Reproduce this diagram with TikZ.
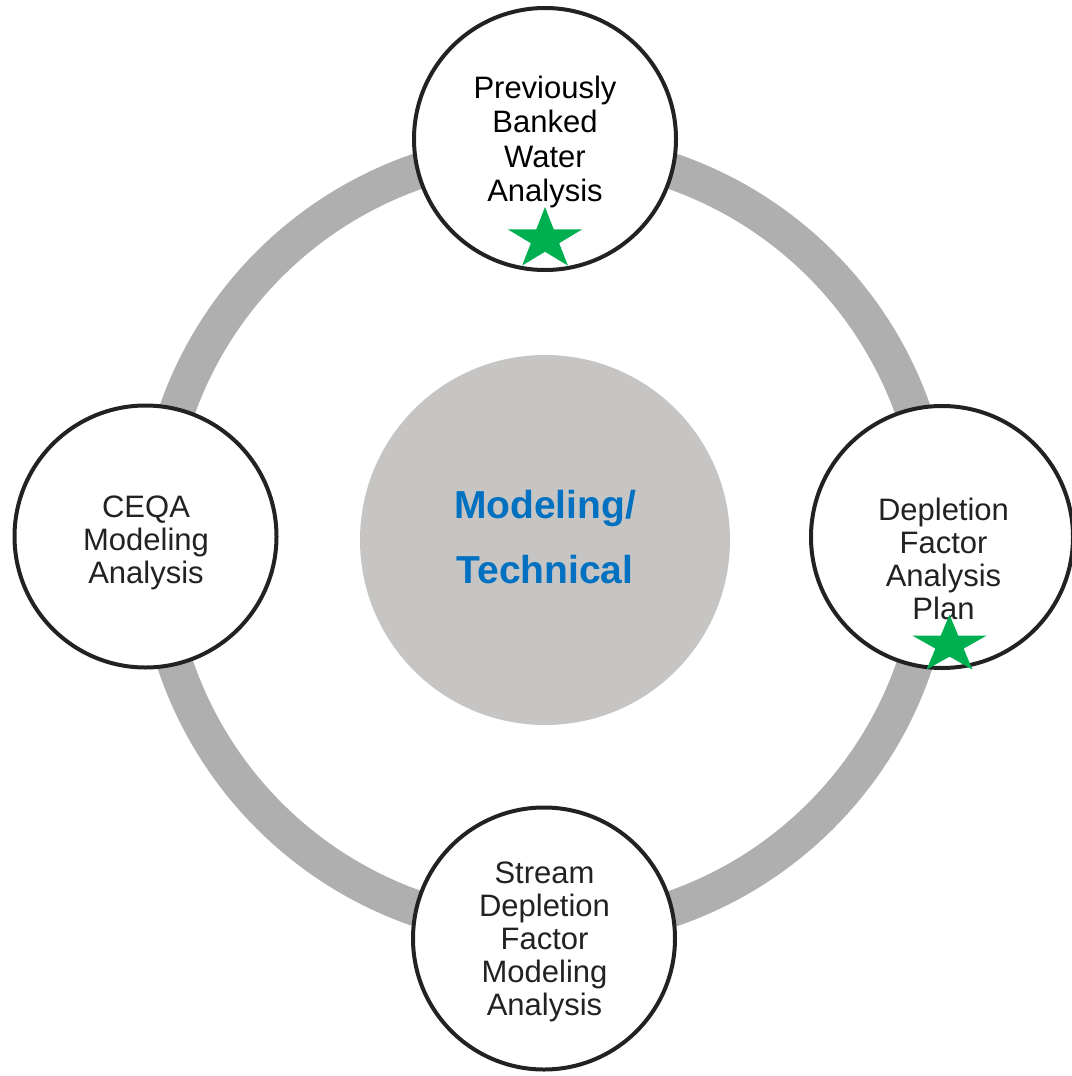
\documentclass[tikz,border=0pt]{standalone}
\usepackage{fontspec}
\setmainfont{Liberation Sans}
\definecolor{ringgray}{HTML}{AFAFAF}
\definecolor{hubgray}{HTML}{C6C5C4}
\definecolor{hubblue}{HTML}{0070C0}
\definecolor{edgeblack}{HTML}{222222}
\definecolor{textblack}{HTML}{222222}
\definecolor{stargreen}{HTML}{00B050}
\begin{document}
\begin{tikzpicture}[x=1pt,y=-1pt,
  ringpath/.style={draw=ringgray, line width=36pt},
  bubble/.style={circle, draw=edgeblack, line width=4pt, fill=white, minimum size=262pt, inner sep=0pt},
  btext/.style={align=center, font=\fontsize{31}{33}\selectfont, text=textblack, inner sep=0pt},
  hub/.style={circle, fill=hubgray, minimum size=370pt, inner sep=0pt},
  hubtext/.style={align=center, font=\fontsize{39}{65}\selectfont\bfseries, text=hubblue, inner sep=0pt},
  greenstar/.style={fill=stargreen}]
\useasboundingbox (0,0) rectangle (1071,1076);
\node[hub] (hub) at (545,540) {};
\draw[ringpath] (hub.center) circle (390pt);
\node[hubtext] (hubt) at (545,537) {Modeling/\\Technical};

\node[bubble] (pb) at (545,139) {};
\node[bubble] (df) at (942,537) {};
\node[bubble] (ceqa) at (145.5,536.5) {};
\node[bubble] (sd) at (544,938.5) {};

\node[btext, font=\fontsize{31}{34.3}\selectfont, text=black] (pbt) at (545,142) {Previously\\Banked\\Water\\Analysis};
\node[btext] (dft) at (943.5,559) {Depletion\\Factor\\Analysis\\Plan};
\node[btext] (ceqat) at (146,542.5) {CEQA\\Modeling\\Analysis};
\node[btext] (sdt) at (544.5,941.5) {Stream\\Depletion\\Factor\\Modeling\\Analysis};

\fill[greenstar, shift={(545,239.4)}, yscale=0.83]
  (90:39pt) -- (126:14.9pt) -- (162:39pt) -- (198:14.9pt) -- (234:39pt) -- (270:14.9pt)
  -- (306:39pt) -- (342:14.9pt) -- (18:39pt) -- (54:14.9pt) -- cycle;
\fill[greenstar, shift={(949.5,645)}, yscale=0.78]
  (90:39pt) -- (126:14.9pt) -- (162:39pt) -- (198:14.9pt) -- (234:39pt) -- (270:14.9pt)
  -- (306:39pt) -- (342:14.9pt) -- (18:39pt) -- (54:14.9pt) -- cycle;
\end{tikzpicture}
\end{document}
